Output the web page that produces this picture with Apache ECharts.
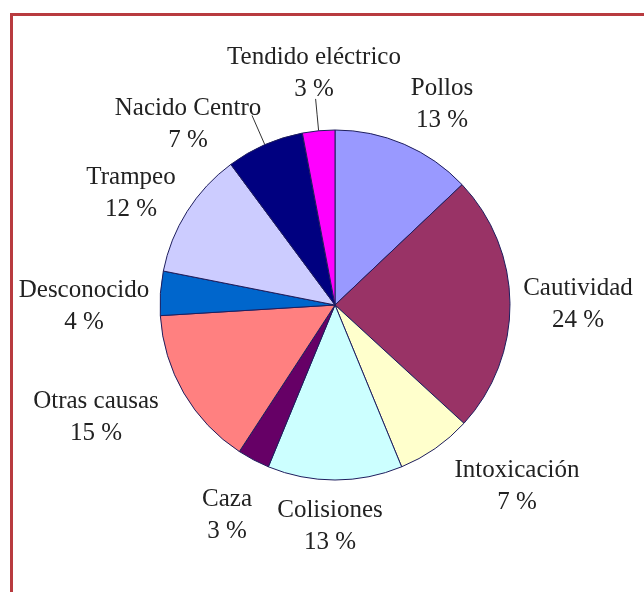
<!DOCTYPE html>
<html>
<head>
    <meta charset="utf-8">
    <title>Causas de ingreso</title>
    <style>
        html, body { margin: 0; padding: 0; background: #fff; }
    </style>
</head>
<body>
    <div id="main" style="width: 644px; height: 592px;"></div>
    <script src="https://cdn.jsdelivr.net/npm/echarts@6/dist/echarts.min.js"></script>
    <script type="text/javascript">
        // datos (sentido horario desde arriba)
        var categories = ['Pollos', 'Cautividad', 'Intoxicación', 'Colisiones', 'Caza',
            'Otras causas', 'Desconocido', 'Trampeo', 'Nacido Centro', 'Tendido eléctrico'];
        var values = [13, 24, 7, 12.5, 3, 14.9, 4.1, 11.8, 7.2, 3];

        // paleta tipo Excel
        var colors = ['#9999ff', '#993366', '#ffffcc', '#ccffff', '#660066',
            '#ff8080', '#0066cc', '#ccccff', '#000080', '#ff00ff'];

        // centro de cada etiqueta (px) y cuales llevan linea guia
        var labelPos = [[442, 104], [578, 304], [517, 486], [330, 526], [227, 515],
            [96, 417], [84, 306], [131, 193], [188, 124], [314, 73]];
        var withLine = [8, 9];

        var cx = 335, cy = 305, R = 175, leaderLen = 32;
        var total = values.reduce(function (a, b) { return a + b; }, 0);

        function midAngle(i) {
            var s = 0;
            for (var k = 0; k < i; k++) s += values[k];
            return (s + values[i] / 2) / total * Math.PI * 2;
        }

        var chartDom = document.getElementById('main');
        var myChart = echarts.init(chartDom);

        var option = {
            animation: false,
            backgroundColor: '#ffffff',
            graphic: [{
                type: 'rect',
                shape: { x: 11.5, y: 14.5, width: 700, height: 700 },
                style: { fill: 'none', stroke: '#b83b3f', lineWidth: 3 },
                silent: true
            }],
            series: [{
                type: 'pie',
                center: [cx, cy],
                radius: R,
                startAngle: 90,
                clockwise: true,
                avoidLabelOverlap: false,
                itemStyle: { borderColor: '#1e1e5e', borderWidth: 1 },
                label: {
                    show: true,
                    position: 'outside',
                    fontFamily: 'Liberation Serif',
                    fontSize: 25,
                    lineHeight: 32,
                    color: '#222222',
                    align: 'center',
                    formatter: function (p) {
                        return p.name + '\n' + Math.round(p.value) + ' %';
                    }
                },
                labelLine: { show: false, lineStyle: { color: '#333', width: 1 } },
                labelLayout: function (p) {
                    var i = p.dataIndex;
                    var out = {
                        x: labelPos[i][0],
                        y: labelPos[i][1],
                        align: 'center',
                        verticalAlign: 'middle'
                    };
                    if (withLine.indexOf(i) >= 0) {
                        var a = midAngle(i);
                        var sx = Math.sin(a), sy = -Math.cos(a);
                        out.labelLinePoints = [
                            [cx + R * sx, cy + R * sy],
                            [cx + (R + leaderLen / 2) * sx, cy + (R + leaderLen / 2) * sy],
                            [cx + (R + leaderLen) * sx, cy + (R + leaderLen) * sy]
                        ];
                    }
                    return out;
                },
                data: categories.map(function (name, i) {
                    var item = {
                        name: name,
                        value: values[i],
                        itemStyle: { color: colors[i] }
                    };
                    if (withLine.indexOf(i) >= 0) {
                        item.labelLine = { show: true, length: 10, length2: 10 };
                    }
                    return item;
                })
            }]
        };

        myChart.setOption(option);
    </script>
</body>
</html>
